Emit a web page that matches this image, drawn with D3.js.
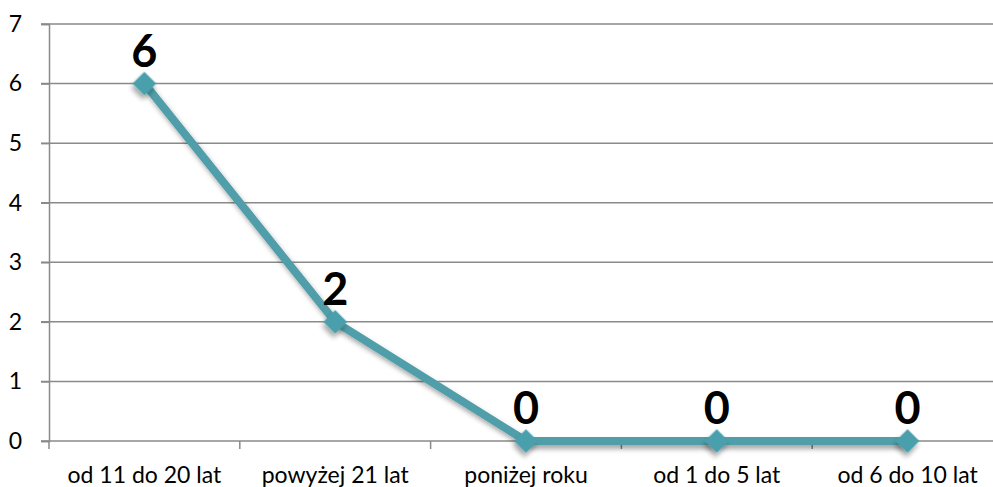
<!DOCTYPE html>
<html><head><meta charset="utf-8">
<script src="https://cdn.jsdelivr.net/npm/d3@7"></script>
<style>body{margin:0;background:#fff}svg{display:block}</style>
</head><body>
<svg id="c" width="993" height="487"></svg>
<script>
const categories = ["od 11 do 20 lat", "powyżej 21 lat", "poniżej roku", "od 1 do 5 lat", "od 6 do 10 lat"];
const values = [6, 2, 0, 0, 0];
const yTicks = [0, 1, 2, 3, 4, 5, 6, 7];

const svg = d3.select("#c");
const font = "Lato, 'Open Sans', sans-serif";
const x = d3.scaleBand().domain(categories).range([49, 1003]);
const y = d3.scaleLinear().domain([0, 7]).range([441, 24]);
const grid = "#8a8a8a";

const defs = svg.append("defs");
const f = defs.append("filter").attr("id","sh").attr("x","-50%").attr("y","-50%").attr("width","200%").attr("height","200%");
f.append("feDropShadow").attr("dx",2).attr("dy",4).attr("stdDeviation",2.5).attr("flood-color","#000").attr("flood-opacity",0.35);

svg.append("g").selectAll("line").data(yTicks).join("line")
  .attr("x1", 41).attr("x2", 993)
  .attr("y1", d => y(d)).attr("y2", d => y(d))
  .attr("stroke", grid).attr("stroke-width", 1.5);

const ya = svg.append("g").attr("transform","translate(49,0)")
  .call(d3.axisLeft(y).tickValues(yTicks).tickSize(8).tickPadding(19).tickFormat(d3.format("d")));
ya.select(".domain").attr("stroke", grid).attr("stroke-width",1.5);
ya.selectAll(".tick line").attr("stroke", grid).attr("stroke-width",1.5);
ya.selectAll("text").attr("font-family", font).attr("font-size", 23).attr("fill","#000");

const xa = svg.append("g").attr("transform","translate(0,441)")
  .call(d3.axisBottom(x).tickSize(0).tickPadding(26));
xa.select(".domain").remove();
xa.selectAll("text").attr("font-family", font).attr("font-size", 23).attr("fill","#000");
svg.append("g").selectAll("line").data(categories).join("line")
  .attr("x1", d => x(d)).attr("x2", d => x(d))
  .attr("y1", 441).attr("y2", 449)
  .attr("stroke", grid).attr("stroke-width", 1.5);

const cx = d => x(d) + x.bandwidth()/2;
const pts = categories.map((c,i) => ({c, v: values[i]}));

svg.append("path").datum(pts)
  .attr("d", d3.line().x(d => cx(d.c)).y(d => y(d.v)))
  .attr("fill","none").attr("stroke","#4f9ea9").attr("stroke-width",8)
  .attr("stroke-linejoin","round").attr("filter","url(#sh)");

svg.append("g").selectAll("path").data(pts).join("path")
  .attr("d", d3.symbol(d3.symbolSquare, 280)())
  .attr("transform", d => `translate(${cx(d.c)},${y(d.v)}) rotate(45)`)
  .attr("fill","#4a9fab").attr("filter","url(#sh)");

svg.append("g").selectAll("text").data(pts).join("text")
  .attr("x", d => cx(d.c)).attr("y", d => y(d.v) - 17)
  .attr("text-anchor","middle")
  .attr("font-family", font).attr("font-weight","bold").attr("font-size", 45)
  .attr("fill","#000").text(d => d.v);
</script>
</body></html>
